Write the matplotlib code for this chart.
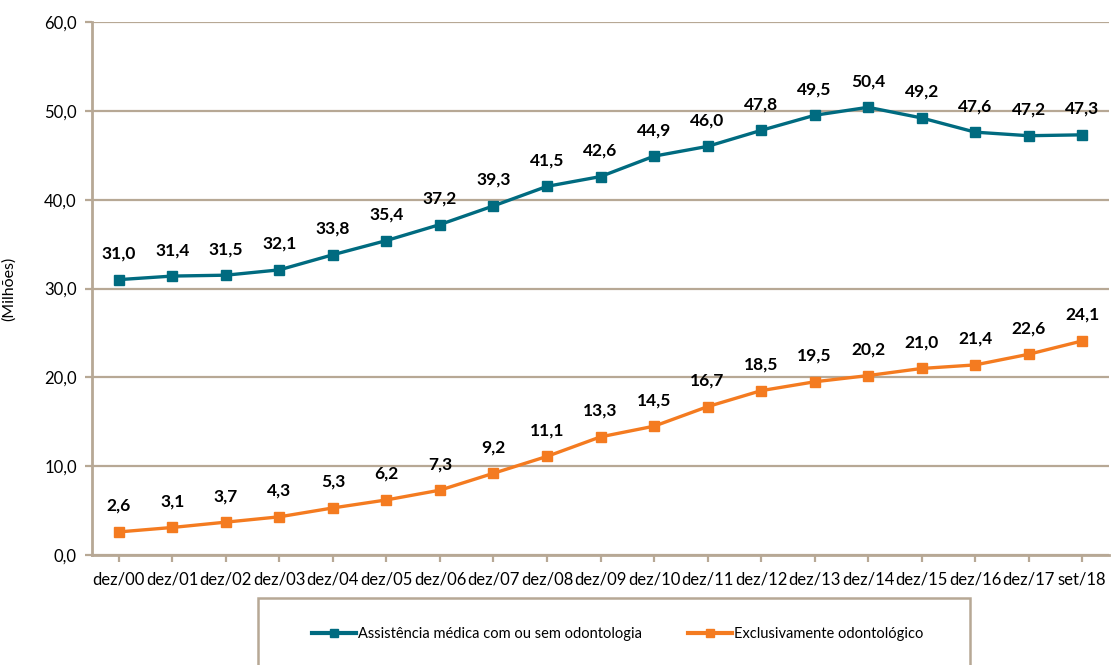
import matplotlib.pyplot as plt
from matplotlib.patches import Rectangle
from matplotlib.lines import Line2D

periods = ["dez/00", "dez/01", "dez/02", "dez/03", "dez/04", "dez/05", "dez/06",
           "dez/07", "dez/08", "dez/09", "dez/10", "dez/11", "dez/12", "dez/13",
           "dez/14", "dez/15", "dez/16", "dez/17", "set/18"]
medica = [31.0, 31.4, 31.5, 32.1, 33.8, 35.4, 37.2, 39.3, 41.5, 42.6,
          44.9, 46.0, 47.8, 49.5, 50.4, 49.2, 47.6, 47.2, 47.3]
odonto = [2.6, 3.1, 3.7, 4.3, 5.3, 6.2, 7.3, 9.2, 11.1, 13.3,
          14.5, 16.7, 18.5, 19.5, 20.2, 21.0, 21.4, 22.6, 24.1]
yticks = [0, 10, 20, 30, 40, 50, 60]

TEAL = "#006B80"
ORANGE = "#F47B20"
TAN = "#B7A895"

plt.rcParams["font.family"] = ["Lato", "DejaVu Sans"]

fig = plt.figure(figsize=(11.13, 6.65), dpi=100)
ax = fig.add_axes([0.0827, 0.1654, 0.9137, 0.8015])

x = list(range(len(periods)))
ax.plot(x, medica, color=TEAL, lw=2.4, marker="s", ms=7, zorder=3)
ax.plot(x, odonto, color=ORANGE, lw=2.4, marker="s", ms=7, zorder=3)

def fmt(v):
    return f"{v:.1f}".replace(".", ",")

for xi, v in zip(x, medica):
    ax.annotate(fmt(v), (xi, v), xytext=(0, 13), textcoords="offset points",
                ha="center", va="bottom", fontsize=12.5, fontweight="bold")
for xi, v in zip(x, odonto):
    ax.annotate(fmt(v), (xi, v), xytext=(0, 13), textcoords="offset points",
                ha="center", va="bottom", fontsize=12.5, fontweight="bold")

ax.set_xlim(-0.5, len(periods) - 0.5)
ax.set_ylim(0, 60)
ax.set_yticks(yticks)
ax.set_yticklabels([fmt(v) for v in yticks], fontsize=12)
ax.set_xticks(x)
ax.set_xticklabels(periods, fontsize=12)
ax.grid(axis="y", color=TAN, lw=1.6)
ax.set_axisbelow(True)
for side in ("top", "right"):
    ax.spines[side].set_visible(False)
for side in ("left", "bottom"):
    ax.spines[side].set_color(TAN)
    ax.spines[side].set_linewidth(2)
ax.tick_params(axis="both", colors=TAN, width=1.6, length=5, labelcolor="black")
ax.tick_params(axis="x", pad=7)
ax.tick_params(axis="y", pad=6)
ax.set_ylabel("(Milhões)", fontsize=11.5, labelpad=20)

# legend frame below the chart
fig.patches.append(Rectangle((0.2318, -0.05), 0.640, 0.1508, transform=fig.transFigure,
                             fill=False, edgecolor=TAN, lw=1.8))
handles = [Line2D([], [], color=TEAL, lw=3, marker="s", ms=6),
           Line2D([], [], color=ORANGE, lw=3, marker="s", ms=6)]
fig.legend(handles, ["Assistência médica com ou sem odontologia", "Exclusivamente odontológico"],
           loc="center", bbox_to_anchor=(0.555, 1 - 634 / 665), ncol=2, frameon=False,
           fontsize=10.5, handlelength=3.0, handletextpad=0.1, columnspacing=3.2)

fig.savefig("out.png", dpi=100)
